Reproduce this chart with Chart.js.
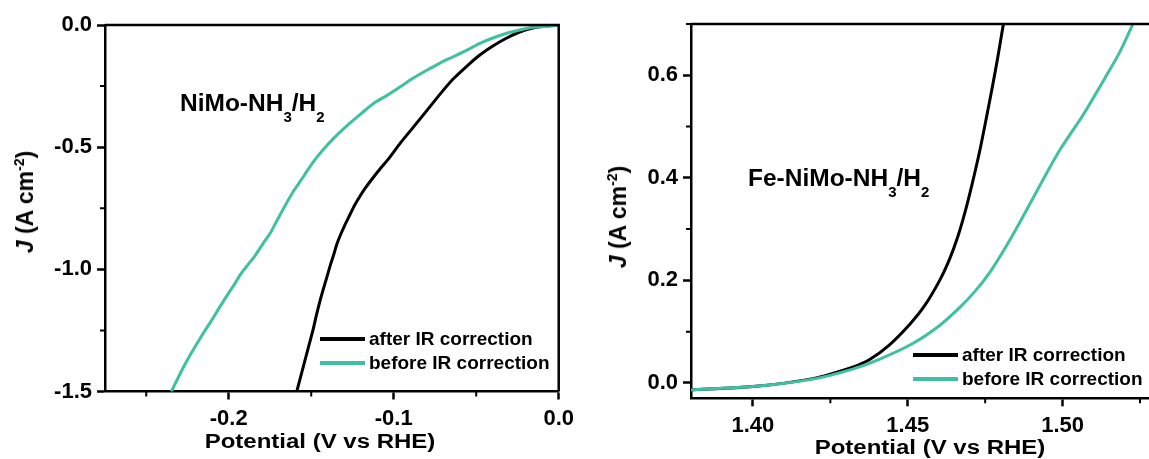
<!DOCTYPE html>
<html>
<head>
<meta charset="utf-8">
<script src="https://cdn.jsdelivr.net/npm/chart.js@4.4.0/dist/chart.umd.min.js"></script>
<style>
  html, body { margin: 0; padding: 0; background: #fff; overflow: hidden; width: 1149px; height: 459px; }
  body { position: relative; font-family: "Liberation Sans", Arial, sans-serif; font-weight: bold; color: #000; }
  canvas { position: absolute; top: 0; }
  #nimo-chart { left: 0; }
  #fe-chart { left: 580px; }
  .txt { position: absolute; white-space: nowrap; line-height: normal; }
  .ytitle { font-size: 23px; transform: translate(-50%, -50%) rotate(-90deg); }
  .xtitle { font-size: 20px; transform: translate(-50%, -50%) scaleX(1.2); }
  .tag { font-size: 24.5px; }
  .tag sub { font-size: 15px; vertical-align: -11px; }
  .ytitle sup { font-size: 14px; vertical-align: 9px; }
</style>
</head>
<body>
<canvas id="nimo-chart" width="580" height="459"></canvas>
<canvas id="fe-chart" width="600" height="459"></canvas>

<div class="txt ytitle" style="left:25px; top:202px;"><i>J</i> (A cm<sup>-2</sup>)</div>
<div class="txt ytitle" style="left:618px; top:217px;"><i>J</i> (A cm<sup>-2</sup>)</div>
<div class="txt xtitle" style="left:320px; top:441px;">Potential (V vs RHE)</div>
<div class="txt xtitle" style="left:930px; top:447px;">Potential (V vs RHE)</div>
<div class="txt tag" style="left:180px; top:89px;">NiMo-NH<sub>3</sub>/H<sub>2</sub></div>
<div class="txt tag" style="left:748px; top:164px;">Fe-NiMo-NH<sub>3</sub>/H<sub>2</sub></div>

<script>
// HER polarisation, NiMo-NH3/H2 (potential V vs RHE, current density A cm-2)
const nimoAfterV = [0, -0.0080, -0.0158, -0.0237, -0.0315, -0.0399, -0.0478, -0.0556, -0.0640, -0.0719, -0.0797, -0.0881, -0.0960, -0.1038, -0.1080, -0.1123, -0.1164, -0.1201, -0.1237, -0.1267, -0.1297, -0.1321, -0.1345, -0.1363, -0.1381, -0.1411, -0.1441, -0.1466, -0.1490, -0.1514, -0.1538, -0.1562, -0.1586];
const nimoAfterJ = [0, -0.0041, -0.0123, -0.0287, -0.0533, -0.0861, -0.1230, -0.1680, -0.2213, -0.2828, -0.3484, -0.4180, -0.4836, -0.5533, -0.5861, -0.6230, -0.6598, -0.6967, -0.7377, -0.7787, -0.8197, -0.8566, -0.8975, -0.9385, -0.9754, -1.0451, -1.1148, -1.1803, -1.2500, -1.3115, -1.3730, -1.4344, -1.4959];
const nimoBeforeV = [0, -0.0080, -0.0158, -0.0237, -0.0315, -0.0399, -0.0478, -0.0556, -0.0640, -0.0719, -0.0797, -0.0881, -0.0960, -0.1038, -0.1123, -0.1201, -0.1279, -0.1363, -0.1441, -0.1484, -0.1526, -0.1562, -0.1604, -0.1640, -0.1677, -0.1713, -0.1749, -0.1791, -0.1839, -0.1882, -0.1924, -0.1966, -0.2002, -0.2056, -0.2104, -0.2159, -0.2207, -0.2249, -0.2285, -0.2315, -0.2345];
const nimoBeforeJ = [0, -0.0061, -0.0094, -0.0205, -0.0340, -0.0533, -0.0750, -0.1025, -0.1299, -0.1557, -0.1844, -0.2172, -0.2529, -0.2869, -0.3209, -0.3648, -0.4098, -0.4631, -0.5205, -0.5574, -0.5984, -0.6352, -0.6762, -0.7172, -0.7623, -0.8074, -0.8525, -0.8934, -0.9426, -0.9795, -1.0164, -1.0615, -1.0984, -1.1557, -1.2090, -1.2664, -1.3197, -1.3689, -1.4139, -1.4549, -1.4959];

// OER polarisation, Fe-NiMo-NH3/H2
const feAfterV = [1.3799, 1.4000, 1.4193, 1.4322, 1.4377, 1.4442, 1.4506, 1.4555, 1.4603, 1.4636, 1.4662, 1.4684, 1.4707, 1.4733, 1.4755, 1.4775, 1.4791, 1.4804, 1.4809];
const feAfterJ = [-0.0137, -0.0072, 0.0084, 0.0309, 0.0456, 0.0749, 0.1140, 0.1511, 0.2000, 0.2430, 0.2860, 0.3310, 0.3857, 0.4542, 0.5206, 0.5832, 0.6360, 0.6829, 0.7000];
const feBeforeV = [1.3799, 1.4000, 1.4193, 1.4322, 1.4410, 1.4516, 1.4603, 1.4668, 1.4717, 1.4765, 1.4814, 1.4862, 1.4936, 1.4991, 1.5066, 1.5137, 1.5185, 1.5227];
const feBeforeJ = [-0.0137, -0.0072, 0.0074, 0.0270, 0.0465, 0.0768, 0.1120, 0.1472, 0.1785, 0.2156, 0.2626, 0.3134, 0.3955, 0.4542, 0.5226, 0.5949, 0.6457, 0.7000];

const seriesLabels = ['after IR correction', 'before IR correction'];

// axis ticks (major get labels, minor are short marks only)
const nimoXTicks = [-0.2, -0.1, 0.0];
const nimoXMinor = [-0.25, -0.15, -0.05];
const nimoYTicks = [-1.5, -1.0, -0.5, 0.0];
const nimoYMinor = [-1.25, -0.75, -0.25];
const feXTicks = [1.40, 1.45, 1.50];
const feXMinor = [1.425, 1.475, 1.525];
const feYTicks = [0.0, 0.2, 0.4, 0.6];
const feYMinor = [0.1, 0.3, 0.5, 0.7];

const BLACK = '#000000';
const TEAL = '#3fc1a1';
const FONT = '"Liberation Sans", Arial, sans-serif';

const toPoints = (xs, ys) => xs.map((x, i) => ({ x: x, y: ys[i] }));

// top/right box lines and the short minor ticks
const framePlugin = {
    id: 'frame',
    afterDraw(chart, args, opts) {
        const { ctx, chartArea: a, scales } = chart;
        ctx.save();
        ctx.strokeStyle = '#000';
        ctx.lineWidth = 2.5;
        ctx.beginPath();
        ctx.moveTo(a.left, a.top);
        ctx.lineTo(a.right, a.top);
        ctx.lineTo(a.right, a.bottom);
        ctx.stroke();
        ctx.lineWidth = 2;
        ctx.beginPath();
        opts.xMinor.forEach(v => {
            const px = scales.x.getPixelForValue(v);
            ctx.moveTo(px, a.bottom);
            ctx.lineTo(px, a.bottom + 5);
        });
        opts.yMinor.forEach(v => {
            const py = scales.y.getPixelForValue(v);
            ctx.moveTo(a.left, py);
            ctx.lineTo(a.left - 5, py);
        });
        ctx.stroke();
        ctx.restore();
    }
};

// legend drawn inside the plot box
const lineLegendPlugin = {
    id: 'lineLegend',
    afterDraw(chart, args, opts) {
        const { ctx, chartArea } = chart;
        const x = chartArea.left + opts.left;
        let y = chartArea.top + opts.top;
        ctx.save();
        ctx.font = 'bold 19px ' + FONT;
        ctx.textBaseline = 'middle';
        ctx.textAlign = 'left';
        chart.data.datasets.forEach(ds => {
            ctx.strokeStyle = ds.borderColor;
            ctx.lineWidth = 4;
            ctx.beginPath();
            ctx.moveTo(x, y);
            ctx.lineTo(x + 45, y);
            ctx.stroke();
            ctx.fillStyle = '#000';
            ctx.fillText(ds.label, x + 49, y + 1);
            y += 24;
        });
        ctx.restore();
    }
};

function makeChart(canvasId, cfg) {
    const tickFont = { family: FONT, size: 22, weight: 'bold' };
    return new Chart(document.getElementById(canvasId), {
        type: 'line',
        data: {
            datasets: [
                { label: seriesLabels[0], data: cfg.after, borderColor: BLACK, order: 1 },
                { label: seriesLabels[1], data: cfg.before, borderColor: TEAL, order: 0 }
            ]
        },
        options: {
            responsive: false,
            animation: false,
            parsing: false,
            elements: {
                point: { radius: 0 },
                line: { borderWidth: 3, tension: 0.25, borderJoinStyle: 'round', borderCapStyle: 'round' }
            },
            layout: { padding: cfg.padding },
            plugins: {
                legend: { display: false },
                tooltip: { enabled: false },
                frame: { xMinor: cfg.xMinor, yMinor: cfg.yMinor },
                lineLegend: cfg.legend
            },
            scales: {
                x: {
                    type: 'linear',
                    min: cfg.xMin,
                    max: cfg.xMax,
                    afterBuildTicks: s => { s.ticks = cfg.xTicks.map(v => ({ value: v })); },
                    afterFit: s => { s.height = cfg.xHeight; },
                    grid: { drawOnChartArea: false, tickLength: 8, tickWidth: 2.5, tickColor: '#000' },
                    border: { color: '#000', width: 2.5 },
                    ticks: {
                        font: tickFont, color: '#000', padding: cfg.xPad, maxRotation: 0, autoSkip: false,
                        callback: v => v.toFixed(cfg.xDigits)
                    }
                },
                y: {
                    type: 'linear',
                    min: cfg.yMin,
                    max: cfg.yMax,
                    afterBuildTicks: s => { s.ticks = cfg.yTicks.map(v => ({ value: v })); },
                    afterFit: s => { s.width = cfg.yWidth; },
                    grid: { drawOnChartArea: false, tickLength: 8, tickWidth: 2.5, tickColor: '#000' },
                    border: { color: '#000', width: 2.5 },
                    ticks: {
                        font: tickFont, color: '#000', padding: 5, autoSkip: false,
                        callback: v => v.toFixed(1)
                    }
                }
            }
        },
        plugins: [framePlugin, lineLegendPlugin]
    });
}

makeChart('nimo-chart', {
    after: toPoints(nimoAfterV, nimoAfterJ),
    before: toPoints(nimoBeforeV, nimoBeforeJ),
    xMin: -0.275, xMax: 0, yMin: -1.5, yMax: 0,
    xTicks: nimoXTicks, xMinor: nimoXMinor, yTicks: nimoYTicks, yMinor: nimoYMinor,
    xDigits: 1, xPad: 6,
    padding: { left: 0, top: 25, right: 20.7, bottom: 0 },
    yWidth: 105, xHeight: 67.5,
    legend: { left: 215, top: 314 }
});

makeChart('fe-chart', {
    after: toPoints(feAfterV, feAfterJ),
    before: toPoints(feBeforeV, feBeforeJ),
    xMin: 1.38, xMax: 1.53, yMin: -0.03, yMax: 0.7,
    xTicks: feXTicks, xMinor: feXMinor, yTicks: feYTicks, yMinor: feYMinor,
    xDigits: 2, xPad: 6,
    padding: { left: 0, top: 24, right: 24.5, bottom: 0 },
    yWidth: 111, xHeight: 60.7,
    legend: { left: 222, top: 331 }
});
</script>
</body>
</html>
